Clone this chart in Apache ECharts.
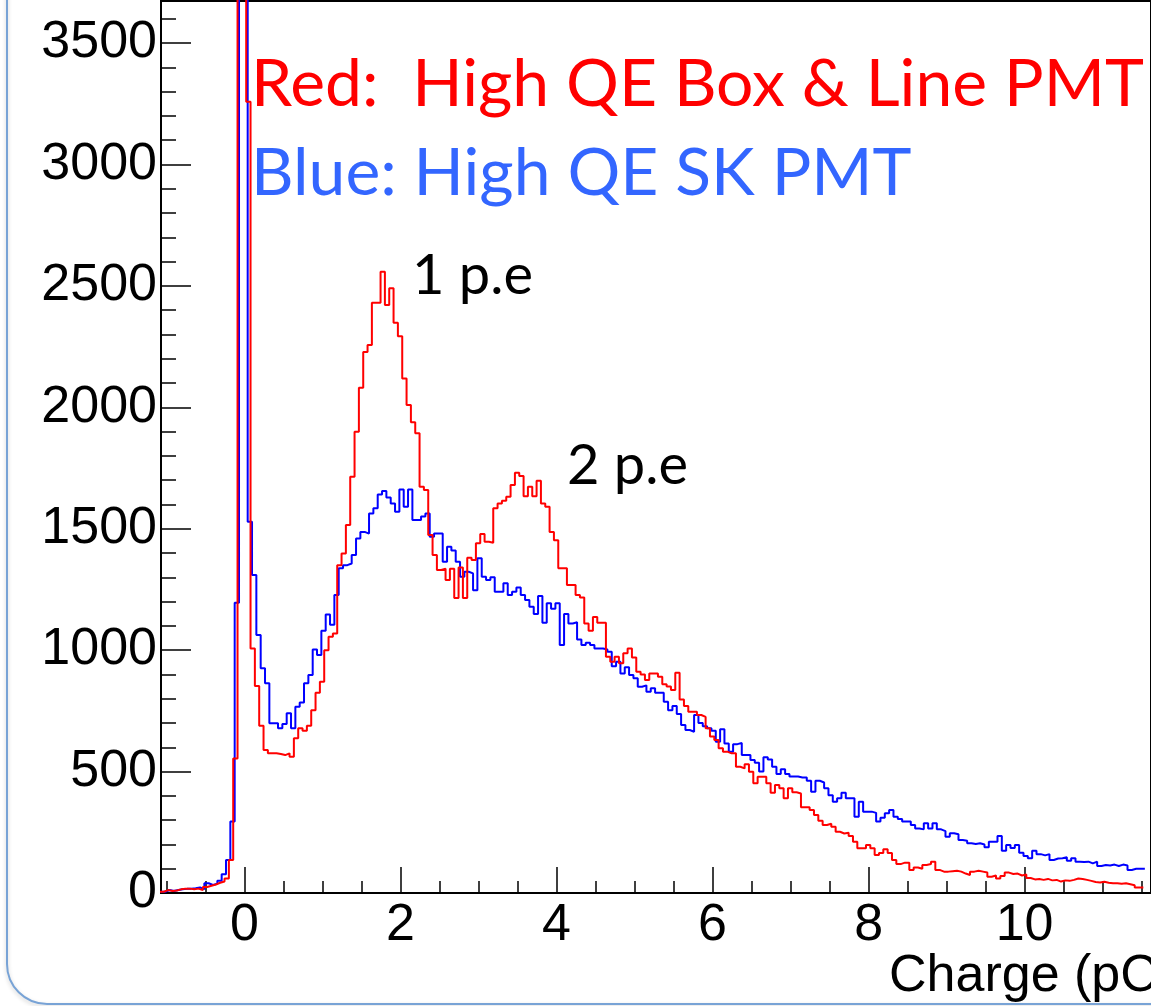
<!DOCTYPE html>
<html lang="en">
<head>
<meta charset="UTF-8">
<title>PMT charge spectrum</title>
<style>
    html,
    body {
        margin: 0;
        padding: 0;
        background: #fff;
    }
    #container {
        width: 1151px;
        height: 1006px;
    }
</style>
</head>
<body>
<div id="container"></div>
<script src="https://cdn.jsdelivr.net/npm/echarts@6/dist/echarts.min.js"></script>
<script>
    // histogram binning (pC): both PMTs use 18 bins per pC
    var binWidth = 1 / 18;
    var redStart = -1.089;
    var blueStart = -1.07;

    // Red: High QE Box & Line PMT, counts per bin (spike bins run off the top)
    var redCounts = [5, 12, 8, 10, 15, 18, 18, 15, 18, 12,
        25, 30, 35, 42, 47, 60, 136, 554, 6000, 6000,
        3258, 1007, 852, 689, 589, 575, 575, 572, 568, 575,
        561, 637, 678, 668, 689, 753, 825, 870, 1000, 1055,
        1069, 1350, 1398, 1515, 1714, 1899, 2080, 2228, 2256, 2430,
        2430, 2558, 2421, 2490, 2348, 2293, 2119, 2009, 1938, 1893,
        1673, 1659, 1474, 1392, 1330, 1335, 1289, 1335, 1215, 1340,
        1215, 1380, 1371, 1440, 1478, 1446, 1442, 1584, 1604, 1615,
        1632, 1680, 1730, 1717, 1634, 1673, 1634, 1698, 1604, 1590,
        1487, 1453, 1337, 1337, 1268, 1268, 1227, 1217, 1110, 1080,
        1137, 1113, 1113, 973, 952, 973, 946, 987, 1007, 970,
        911, 900, 877, 904, 904, 890, 860, 850, 836, 907,
        797, 770, 746, 746, 733, 725, 678, 644, 630, 596,
        582, 575, 575, 520, 513, 530, 499, 452, 479, 479,
        452, 413, 445, 431, 390, 431, 415, 410, 353, 353,
        342, 321, 298, 280, 285, 273, 252, 245, 248, 235,
        211, 184, 184, 198, 184, 156, 165, 180, 165, 136,
        119, 125, 125, 95, 105, 100, 115, 119, 129, 95,
        88, 88, 90, 92, 88, 80, 74, 88, 92, 88,
        84, 67, 72, 60, 70, 84, 78, 80, 72, 76,
        62, 56, 58, 54, 58, 52, 54, 47, 52, 50,
        54, 60, 58, 54, 50, 45, 43, 46, 42, 40,
        40, 38, 40, 36, 32, 23, 23];

    // Blue: High QE SK PMT
    var blueCounts = [5, 12, 8, 12, 15, 17, 18, 20, 23, 15,
        40, 33, 38, 50, 77, 136, 294, 1195, 6000, 6000,
        1529, 1309, 1062, 925, 864, 699, 699, 678, 696, 740,
        678, 767, 784, 864, 898, 1003, 980, 1080, 1147, 1105,
        1227, 1337, 1350, 1357, 1392, 1460, 1487, 1480, 1563, 1584,
        1641, 1655, 1629, 1604, 1570, 1662, 1590, 1662, 1536, 1536,
        1550, 1563, 1467, 1480, 1480, 1364, 1426, 1410, 1364, 1302,
        1323, 1316, 1247, 1378, 1302, 1289, 1300, 1240, 1240, 1275,
        1227, 1240, 1258, 1227, 1206, 1179, 1149, 1223, 1113, 1193,
        1170, 1193, 1021, 1149, 1110, 1115, 1044, 1021, 1030, 1021,
        1007, 1007, 1003, 993, 934, 952, 904, 930, 898, 884,
        849, 855, 829, 843, 825, 825, 788, 753, 770, 737,
        692, 671, 664, 733, 700, 687, 678, 668, 623, 674,
        616, 582, 613, 618, 568, 568, 548, 536, 500, 559,
        550, 520, 490, 510, 490, 480, 480, 476, 476, 462,
        417, 462, 455, 431, 403, 376, 390, 413, 390, 390,
        314, 376, 335, 335, 330, 294, 310, 328, 342, 314,
        305, 294, 294, 280, 266, 262, 287, 266, 287, 262,
        255, 232, 246, 242, 218, 215, 205, 202, 205, 200,
        188, 211, 211, 235, 174, 198, 185, 198, 166, 152,
        143, 174, 160, 155, 160, 136, 142, 143, 147, 133,
        143, 129, 128, 129, 122, 129, 111, 115, 113, 117,
        111, 117, 113, 95, 100, 100, 100];

    var xMin = -1.07;
    var xMax = 11.62;
    var yMax = 3673;

    // left bin edges -> points for a step line, plus the closing right edge
    function toSteps(start, counts) {
        var pts = counts.map(function (c, k) {
            return [start + k * binWidth, c];
        });
        pts.push([start + counts.length * binWidth, counts[counts.length - 1]]);
        return pts;
    }

    function plain(v) {
        return String(v);
    }

    var dom = document.getElementById('container');
    var myChart = echarts.init(dom, null, { renderer: 'canvas' });

    var axisFont = 'Liberation Sans';

    var option = {
        animation: false,
        backgroundColor: '#fff',
        grid: {
            left: 161,
            top: 1,
            right: -10,
            bottom: 113,
            show: true,
            borderColor: '#000',
            borderWidth: 2
        },
        xAxis: [
            {
                // major ticks + labels
                type: 'value',
                position: 'bottom',
                min: xMin,
                max: xMax,
                splitNumber: 6,
                axisLine: { onZero: false, lineStyle: { color: '#000', width: 2 } },
                axisTick: { inside: true, length: 26, lineStyle: { color: '#000', width: 1.5 } },
                axisLabel: {
                    showMinLabel: false,
                    showMaxLabel: false,
                    margin: 7,
                    color: '#000',
                    fontFamily: axisFont,
                    fontSize: 52,
                    formatter: plain
                },
                splitLine: { show: false }
            },
            {
                // minor ticks every 0.5 pC
                type: 'value',
                position: 'bottom',
                min: xMin,
                max: xMax,
                splitNumber: 25,
                axisLine: { show: false, onZero: false },
                axisTick: { inside: true, length: 12, lineStyle: { color: '#000', width: 1.5 } },
                axisLabel: { show: false },
                splitLine: { show: false }
            }
        ],
        yAxis: [
            {
                type: 'value',
                position: 'left',
                min: 0,
                max: yMax,
                interval: 500,
                axisLine: { show: true, onZero: false, lineStyle: { color: '#000', width: 2 } },
                axisTick: { show: true, inside: true, length: 30, lineStyle: { color: '#000', width: 1.5 } },
                axisLabel: {
                    showMaxLabel: false,
                    margin: 4,
                    color: '#000',
                    fontFamily: axisFont,
                    fontSize: 52,
                    formatter: plain
                },
                splitLine: { show: false }
            },
            {
                type: 'value',
                position: 'left',
                min: 0,
                max: yMax,
                interval: 100,
                axisLine: { show: false, onZero: false },
                axisTick: { show: true, inside: true, length: 15, lineStyle: { color: '#000', width: 1.5 } },
                axisLabel: { show: false },
                splitLine: { show: false }
            }
        ],
        graphic: [
            {
                type: 'rect',
                z: 0,
                shape: { x: 7, y: -100, width: 1400, height: 1104, r: 40 },
                style: {
                    fill: 'none',
                    stroke: '#78a3d6',
                    lineWidth: 2,
                    shadowBlur: 4,
                    shadowColor: 'rgba(0,0,0,0.2)',
                    shadowOffsetY: 2
                }
            },
            {
                type: 'text',
                left: 251,
                top: 52,
                z: 10,
                style: { text: 'Red:  High QE Box & Line PMT', fill: '#ff0000', font: '66px Lato' }
            },
            {
                type: 'text',
                left: 251,
                top: 141,
                z: 10,
                style: { text: 'Blue: High QE SK PMT', fill: '#3366ff', font: '66px Lato' }
            },
            {
                type: 'text',
                left: 412,
                top: 248,
                z: 10,
                style: { text: '1 p.e', fill: '#000', font: '56px Lato' }
            },
            {
                type: 'text',
                left: 567,
                top: 438,
                z: 10,
                style: { text: '2 p.e', fill: '#000', font: '56px Lato' }
            },
            {
                type: 'text',
                left: 889,
                top: 951,
                z: 10,
                style: { text: 'Charge (pC)', fill: '#000', font: '52px "Liberation Sans"' }
            }
        ],
        series: [
            {
                name: 'High QE SK PMT',
                type: 'line',
                step: 'end',
                symbol: 'none',
                xAxisIndex: 0,
                yAxisIndex: 0,
                lineStyle: { color: '#0000ff', width: 2 },
                data: toSteps(blueStart, blueCounts)
            },
            {
                name: 'High QE Box & Line PMT',
                type: 'line',
                step: 'end',
                symbol: 'none',
                xAxisIndex: 0,
                yAxisIndex: 0,
                lineStyle: { color: '#ff0000', width: 2 },
                data: toSteps(redStart, redCounts)
            }
        ]
    };

    myChart.setOption(option);
</script>
</body>
</html>
